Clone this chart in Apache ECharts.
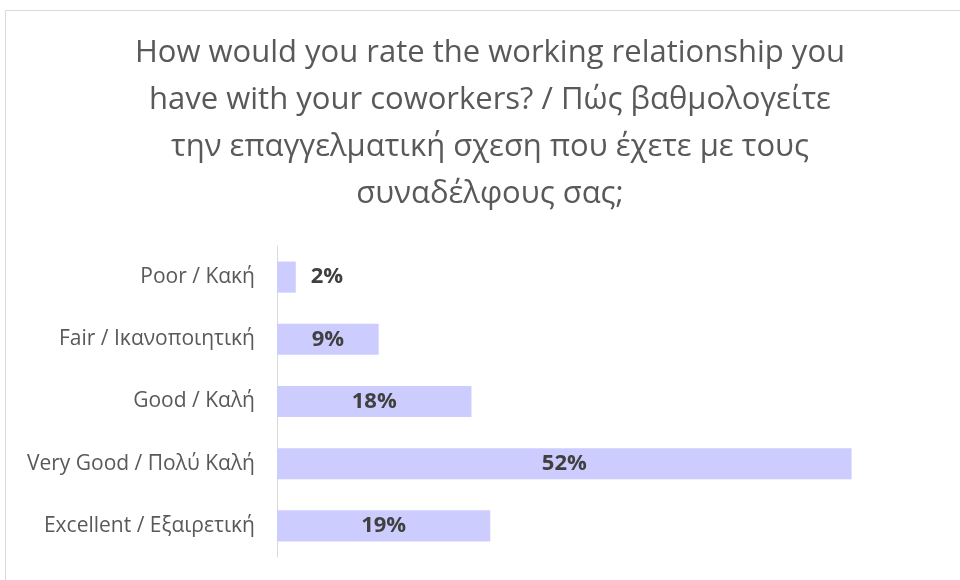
<!DOCTYPE html>
<html>
<head>
<meta charset="utf-8">
<script src="https://cdn.jsdelivr.net/npm/echarts@6/dist/echarts.min.js"></script>
<style>
  html, body { margin: 0; padding: 0; background: #fff; }
  #main { width: 960px; height: 580px; }
</style>
</head>
<body>
<div id="main"></div>
<script>
var categories = ["Poor / Κακή", "Fair / Ικανοποιητική", "Good / Καλή", "Very Good / Πολύ Καλή", "Excellent / Εξαιρετική"];
// shares in % (labels show them rounded)
var values = [1.7, 9.2, 17.6, 52.0, 19.3];
var titleText = "How would you rate the working relationship you\nhave with your coworkers? / Πώς βαθμολογείτε\nτην επαγγελματική σχεση που έχετε με τους\nσυναδέλφους σας;";

var font = "Open Sans";
var chart = echarts.init(document.getElementById("main"));

var option = {
  animation: false,
  title: {
    text: titleText,
    left: 490,
    top: 30,
    padding: 0,
    textAlign: "center",
    textStyle: { fontFamily: font, fontSize: 31, fontWeight: "normal", color: "#595959", lineHeight: 47 }
  },
  graphic: [{
    type: "rect",
    shape: { x: 5.5, y: 10.5, width: 1000, height: 700 },
    style: { fill: "none", stroke: "#d9d9d9", lineWidth: 1 },
    silent: true
  }],
  grid: { left: 277, right: 20, top: 246, bottom: 23, containLabel: false },
  xAxis: {
    type: "value",
    min: 0,
    max: 60,
    show: false
  },
  yAxis: {
    type: "category",
    data: categories,
    inverse: true,
    axisLine: { show: true, lineStyle: { color: "#d9d9d9", width: 1 } },
    axisTick: { show: false },
    axisLabel: { fontFamily: font, fontSize: 21, color: "#595959", margin: 22 }
  },
  series: [{
    type: "bar",
    data: values.map(function (v, i) {
      return i === 0 ? { value: v, label: { position: "right", distance: 15 } } : v;
    }),
    barCategoryGap: "50%",
    itemStyle: { color: "#ccccff" },
    label: {
      show: true,
      position: "inside",
      formatter: function (p) { return Math.round(p.value) + "%"; },
      fontFamily: font,
      fontSize: 22,
      fontWeight: "bold",
      color: "#404040"
    }
  }]
};

chart.setOption(option);
</script>
</body>
</html>
